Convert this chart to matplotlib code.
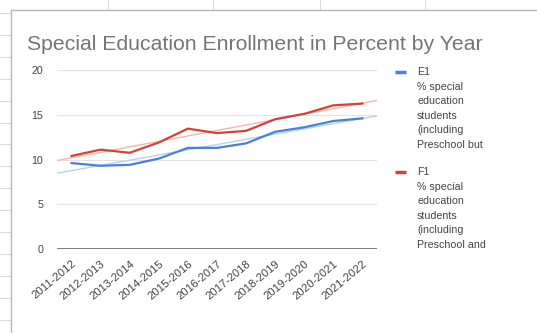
import numpy as np
import matplotlib
matplotlib.use("Agg")
import matplotlib.pyplot as plt
from matplotlib.lines import Line2D

plt.rcParams['font.family'] = ['Liberation Sans', 'DejaVu Sans']

years = ["2011-2012", "2012-2013", "2013-2014", "2014-2015", "2015-2016",
         "2016-2017", "2017-2018", "2018-2019", "2019-2020", "2020-2021", "2021-2022"]
e1 = [9.6, 9.3, 9.4, 10.1, 11.3, 11.3, 11.8, 13.1, 13.6, 14.3, 14.6]
f1 = [10.4, 11.1, 10.75, 11.9, 13.45, 12.95, 13.2, 14.5, 15.1, 16.05, 16.25]
yticks = [0, 5, 10, 15, 20]
e1_label = "E1\n% special\neducation\nstudents\n(including\nPreschool but"
f1_label = "F1\n% special\neducation\nstudents\n(including\nPreschool and"
title = "Special Education Enrollment in Percent by Year"

W, H = 537, 333
fig = plt.figure(figsize=(W / 100, H / 100), dpi=100)
fig.patch.set_facecolor("white")

def fx(px):
    return px / W

def fy(py):
    return 1 - py / H

# spreadsheet background lines
grid_c = "#dcdcdc"
for xv in [108, 213, 320, 425]:
    fig.add_artist(Line2D([fx(xv), fx(xv)], [fy(0), fy(10)], color=grid_c, lw=0.8))
for yv in np.arange(13, 333, 21.9):
    fig.add_artist(Line2D([fx(0), fx(11)], [fy(yv), fy(yv)], color=grid_c, lw=0.8))
# chart border
fig.add_artist(Line2D([fx(11), fx(537)], [fy(10), fy(10)], color="#b8b8b8", lw=1.0))
fig.add_artist(Line2D([fx(11), fx(11)], [fy(10), fy(333)], color="#b8b8b8", lw=1.0))

fig.text(fx(27), fy(50), title, fontsize=15.3, color="#757575", ha="left", va="baseline")

ax = fig.add_axes([fx(57), fy(249), fx(320), 179 / H])
x = np.arange(len(years))
blue = "#4a7fd9"
red = "#d2423a"

xl = (-0.5, len(years) - 0.5)
for vals, c, tc in [(e1, blue, "#b7d0f5"), (f1, red, "#f3b6ae")]:
    p = np.polyfit(x, vals, 1)
    xt = np.array(xl)
    ax.plot(xt, np.polyval(p, xt), color=tc, lw=1.0, zorder=2)
ax.plot(x, e1, color=blue, lw=1.6, zorder=3)
ax.plot(x, f1, color=red, lw=1.6, zorder=3)

ax.set_xlim(*xl)
ax.set_ylim(0, 20)
ax.set_yticks(yticks)
ax.set_yticklabels([str(v) for v in yticks])
ax.set_xticks(x)
ax.set_xticklabels(years, rotation=40, ha="right", rotation_mode="anchor")
ax.tick_params(axis="both", length=0, labelcolor="#444444")
ax.tick_params(axis="y", pad=10, labelsize=7.7)
ax.tick_params(axis="x", pad=7, labelsize=8.2)
for s in ax.spines.values():
    s.set_visible(False)
ax.grid(axis="y", color="#e3e3e3", lw=0.8)
ax.set_axisbelow(True)
ax.axhline(0, color="#666666", lw=1.2, zorder=1)

# legend
for lab, c, ymid in [(e1_label, blue, 72), (f1_label, red, 172)]:
    fig.add_artist(Line2D([fx(395), fx(406)], [fy(ymid), fy(ymid)], color=c, lw=2.5,
                          solid_capstyle="butt"))
    fig.text(fx(417), fy(ymid - 5), lab, fontsize=7.7, color="#444444", ha="left",
             va="top", linespacing=1.57)

fig.savefig("out.png", dpi=100)
